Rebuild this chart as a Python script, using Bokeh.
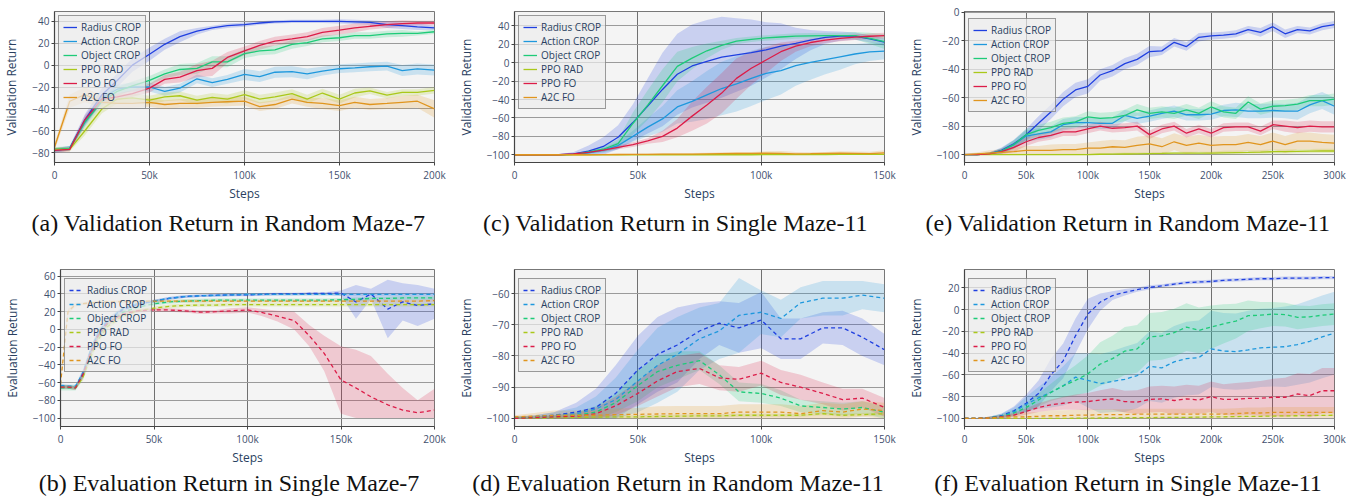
from bokeh.plotting import figure
from bokeh.layouts import column, row
from bokeh.models import FixedTicker, Legend, LegendItem
from bokeh.core.properties import value
from bokeh.embed import file_html
from bokeh.resources import INLINE

SERIES = ["Radius CROP", "Action CROP", "Object CROP", "PPO RAD", "PPO FO", "A2C FO"]
COLORS = ["#1f3fe0", "#1e98dd", "#1ecb78", "#aac81a", "#dc1c48", "#e0951e"]
CAPTIONS = ["(a) Validation Return in Random Maze-7",
            "(c) Validation Return in Single Maze-11",
            "(e) Validation Return in Random Maze-11",
            "(b) Evaluation Return in Single Maze-7",
            "(d) Evaluation Return in Random Maze-11",
            "(f) Evaluation Return in Single Maze-11"]

# ---------------- (a) Validation Return in Random Maze-7 ----------------
X_A = [0, 8, 16, 25, 33, 41, 50, 58, 66, 75, 83, 91, 100, 108, 116, 125, 133, 141, 150, 158, 166, 175, 183, 191, 200]
A_RADIUS = [-78, -76, -50, -27, -14, 0, 10, 19, 26, 31, 34, 36, 37, 38.5, 39.5, 40, 40, 40, 40, 39.5, 39, 37, 36, 35, 34]
A_ACTION = [-78, -76, -52, -30, -22, -20, -20, -24, -21, -12.5, -16, -13, -8.5, -10.5, -6.5, -6, -8, -5.5, -3.3, -2.5, -1.5, -1, -5, -3.5, -4.5]
A_OBJECT = [-77, -76, -52, -33, -24, -19, -14, -8, -4, -3, 3, 3, 10.5, 13, 14, 19, 20.5, 24, 25, 27, 27, 28.5, 29, 29, 30.5]
A_PPORAD = [-77, -77, -60, -40, -31, -30, -32, -29, -28, -32, -29.5, -31, -27, -31, -29, -26, -31, -25.5, -31, -25.5, -23.5, -27.5, -25, -25, -23]
A_PPOFO = [-78, -77, -50, -31, -29, -26, -21, -13, -11, -5, -3, 7, 13, 18, 22, 24, 26, 30, 32, 34, 35.5, 37, 38, 38.5, 38.5]
A_A2C = [-75, -33, -27, -34, -35, -35, -34, -36, -35, -35, -34, -33.5, -33, -38, -36, -31, -34, -35, -37, -34, -36, -35, -34, -33, -40]
A_RADIUS_SD = [2, 2, 5, 6, 6, 6, 6, 5, 5, 3, 2, 2, 2, 1.5, 1.5, 1.5, 1.5, 1.5, 2, 2, 2, 3, 3, 3, 2]
A_ACTION_SD = [2, 2, 4, 4, 4, 4, 4, 4, 4, 4, 4, 4, 5, 5, 5, 5, 5, 4, 4, 4, 4, 4, 5, 5, 5]
A_OBJECT_SD = [2, 2, 4, 4, 4, 4, 4, 4, 5, 5, 5, 5, 4, 4, 4, 4, 3, 3, 3, 3, 3, 3, 3, 2, 2]
A_PPORAD_SD = [2, 2, 4, 4, 4, 4, 4, 4, 4, 4, 4, 4, 4, 4, 4, 4, 4, 4, 4, 4, 3, 3, 3, 3, 3]
A_PPOFO_SD = [2, 2, 4, 4, 3, 3, 4, 4, 5, 6, 7, 5, 4, 4, 4, 4, 4, 4, 4, 4, 3, 3, 3, 2, 2]
A_A2C_SD = [3, 6, 7, 5, 4, 4, 4, 4, 4, 4, 4, 4, 4, 4, 4, 4, 4, 5, 5, 5, 5, 5, 6, 6, 8]

# ---------------- (c) Validation Return in Single Maze-11 ----------------
X_C = [0, 6, 12, 18, 24, 30, 36, 42, 48, 54, 60, 66, 72, 78, 84, 90, 96, 102, 108, 114, 120, 126, 132, 138, 144, 150]
C_RADIUS = [-100, -100, -100, -100, -99, -96, -91, -81, -65, -47, -29, -12.5, -3.5, 1.5, 6, 8.5, 11, 14, 18, 21, 24.5, 27.5, 29, 29, 26, 22.5]
C_ACTION = [-100, -100, -100, -100, -99.5, -98, -95, -90, -80, -70, -61, -48, -42, -35, -28, -23, -17, -11.5, -8.5, -3, 0.5, 3.5, 6.5, 9.5, 11.8, 12.7]
C_OBJECT = [-100, -100, -100, -100, -99.5, -97, -94, -88, -66, -46, -25, -4, 5, 13, 19, 23.5, 25.5, 27, 28, 29, 29.3, 29.5, 29.5, 29.5, 26.5, 23]
C_PPORAD = [-100, -100, -100, -100, -100, -100, -100, -100, -100, -100, -100, -100, -100, -100, -100, -100, -100, -99.8, -99.8, -99.8, -99.7, -99.7, -99.6, -99.6, -99.5, -99.5]
C_PPOFO = [-100, -100, -100, -100, -99, -97.5, -95, -92, -89, -85, -80, -71, -58, -46, -33, -17, -6, 3, 12, 18, 22, 24.5, 26.5, 27.8, 28.8, 29.5]
C_A2C = [-100, -100, -100, -100, -100, -100, -99.8, -99.7, -99.6, -99.5, -99.4, -99.3, -99.2, -99, -98.8, -98.6, -98.5, -98.3, -98.5, -99, -98.8, -98.5, -98.2, -98.5, -98.8, -98]
C_RADIUS_SD = [0, 0, 0, 0.5, 2, 6, 10, 13, 20, 30, 40, 44, 45, 45, 44, 40, 36, 30, 25, 17, 11, 7, 5, 4, 4, 4]
C_ACTION_SD = [0, 0, 0, 0.5, 1, 2, 3, 4, 6, 10, 14, 18, 22, 26, 29, 30, 30, 29, 26, 22, 19, 16, 14, 11, 10, 9]
C_OBJECT_SD = [0, 0, 0, 0.5, 1, 2, 3, 5, 12, 16, 18, 16, 12, 8, 5, 3.5, 3, 3, 3, 3, 3, 3, 3, 4, 6, 8]
C_PPORAD_SD = [0.3, 0.3, 0.3, 0.3, 0.3, 0.3, 0.3, 0.3, 0.3, 0.3, 0.3, 0.3, 0.3, 0.3, 0.3, 0.3, 0.3, 0.3, 0.3, 0.3, 0.3, 0.3, 0.3, 0.3, 0.3, 0.3]
C_PPOFO_SD = [0, 0, 0, 0, 0.5, 1, 1.5, 2, 2.5, 3, 6, 10, 16, 20, 22, 22, 18, 14, 10, 6, 4, 3, 3, 3, 3, 3]
C_A2C_SD = [0.5, 0.5, 0.5, 0.5, 0.5, 0.5, 0.5, 0.7, 0.8, 1, 1, 1, 1, 1.2, 1.5, 1.5, 1.5, 2, 2.5, 2, 1.5, 1.5, 2, 2, 2, 3]

# ---------------- (e) Validation Return in Random Maze-11 ----------------
X_E = [0, 10, 20, 30, 40, 50, 60, 70, 80, 90, 100, 110, 120, 130, 140, 150, 160, 170, 180, 190, 200, 210, 220, 230, 240, 250, 260, 270, 280, 290, 300]
E_RADIUS = [-100, -100, -99.5, -97, -92.5, -86, -78, -70, -61, -54.5, -52, -44, -41, -36, -33, -27.5, -27, -21, -24, -17.5, -16.5, -16, -15, -12, -14, -10, -15, -12, -13, -10, -8.5]
E_ACTION = [-100, -100, -99.5, -97.5, -93, -87, -85.5, -84, -79, -77.5, -77.5, -78, -78, -72.5, -74.5, -73, -71, -69.5, -72, -72, -71.5, -69, -68.5, -69.5, -69.5, -69, -69.5, -69.5, -65, -62, -66]
E_OBJECT = [-100, -100, -99.5, -97.5, -93, -86, -83, -81, -78, -77, -73.5, -74.5, -74, -72.5, -68.5, -71, -70, -71, -68.5, -71, -66.5, -70, -71, -63, -68, -66, -65.5, -64.5, -62, -62, -61]
E_PPORAD = [-100, -100, -100, -100, -100, -100, -100, -100, -100, -100, -100, -99.8, -99.7, -99.6, -99.5, -99.3, -99.2, -99, -99, -99, -99, -98.8, -98.6, -98.5, -98.3, -98, -98, -97.8, -97.6, -97.5, -97.5]
E_PPOFO = [-100, -100, -99.5, -98, -95, -91, -88, -86.5, -84, -84, -82, -80, -81.5, -81, -80, -86, -82, -80, -85, -82, -85, -81, -80.5, -80.5, -83.5, -79, -80, -81, -80, -80.5, -80.5]
E_A2C = [-100, -99.5, -99, -98.5, -98, -97, -97, -97, -96.5, -96.5, -95.5, -95.5, -94.5, -95, -93.5, -92.5, -94.5, -91, -93.5, -92, -93.5, -93, -93, -91.5, -93, -90.5, -93, -90.5, -90.5, -91.5, -92]
E_RADIUS_SD = [0.5, 0.5, 1, 2, 3, 4, 5, 5, 5, 5, 5, 4, 4, 4, 4, 4, 3, 3, 3, 3, 2.5, 2.5, 2.5, 2.5, 3, 3, 3, 2.5, 2.5, 2.5, 2.5]
E_ACTION_SD = [0.5, 0.5, 1, 2, 3, 4, 4, 4, 4, 4, 4, 4, 4, 4, 4, 4, 4, 4, 4, 4, 4, 4, 5, 5, 5, 5, 5, 6, 6, 6, 6]
E_OBJECT_SD = [0.5, 0.5, 1, 2, 3, 4, 4, 4, 4, 4, 4, 4, 4, 4, 4, 4, 4, 4, 4, 4, 4, 4, 4, 4, 4, 4, 4, 4, 4, 4, 4]
E_PPORAD_SD = [0.3, 0.3, 0.3, 0.3, 0.5, 0.5, 0.5, 0.5, 0.5, 0.5, 0.5, 0.8, 0.8, 1, 1, 1, 1, 1, 1, 1, 1, 1.5, 1.5, 1.5, 1.5, 1.5, 1.5, 1.5, 1.5, 1.5, 1.5]
E_PPOFO_SD = [0.5, 0.5, 1, 2, 3, 3, 3, 3, 3, 3, 3, 3, 3, 3, 3, 3, 3, 3, 3, 3, 3, 3, 3, 3, 3, 3, 4, 4, 4, 4, 4]
E_A2C_SD = [0.5, 1, 2, 2, 3, 3, 3, 4, 4, 4, 4, 5, 5, 5, 6, 6, 6, 6, 6, 6, 6, 6, 6, 6, 6, 6, 6, 6, 6, 6, 6]

# ---------------- (b) Evaluation Return in Single Maze-7 ----------------
X_B = [0, 4, 8, 12, 16, 20, 25, 33, 41, 50, 58, 66, 75, 83, 91, 100, 108, 116, 125, 133, 141, 150, 158, 166, 175, 183, 191, 200]
B_RADIUS = [-65, -65, -66, -50, -26, -6, 9, 22, 28, 32, 35, 37, 38, 38.5, 39, 39, 39.5, 40, 40, 40.5, 40.5, 41, 31, 40, 23, 31, 27, 29]
B_ACTION = [-63, -64, -64, -49, -24, -4, 10, 23, 29, 32, 35, 37, 38, 38.5, 39, 39.5, 39.5, 39.5, 39.5, 39.5, 39.5, 39.5, 39.5, 39.5, 39.5, 39.5, 39.5, 39.5]
B_OBJECT = [-66, -66, -66, -52, -28, -8, 6, 19, 25, 29, 31, 32, 32.5, 33, 33, 33, 33, 33, 33, 33, 33, 33.5, 34, 35, 35, 35.5, 35.5, 35.5]
B_PPORAD = [-65, -65, -66, -54, -32, -12, 3, 15, 21, 24, 26, 27, 27.5, 27.5, 28, 28, 28, 28, 28, 28, 28, 28, 28, 28, 28, 28, 28, 28]
B_PPOFO = [-65, -65, -66, -51, -27, -7, 7, 17, 21, 22, 22, 21, 19.5, 20, 21, 22, 19, 15, 10, -7, -27, -57, -66, -76, -85, -91, -94, -91]
B_A2C = [-62, 20, 28, 29, 30, 30.5, 31, 31.5, 31.5, 32, 32, 32, 32, 32, 32, 32, 32, 32, 32, 32, 32, 32, 32, 32, 32, 32, 32, 32.5]
B_RADIUS_SD = [2, 2, 2, 4, 4, 4, 3, 2, 2, 1.5, 1.5, 1.5, 1.5, 1.5, 1.5, 1.5, 1.5, 1.5, 1.5, 1.5, 1.5, 3, 19, 6, 33, 21, 23, 17]
B_ACTION_SD = [2, 2, 2, 4, 4, 4, 3, 2, 1.5, 1.5, 1.5, 1.5, 1.5, 1.5, 1.5, 1.5, 1.5, 1.5, 1.5, 1.5, 1.5, 1.5, 1.5, 1.5, 1.5, 1.5, 1.5, 1.5]
B_OBJECT_SD = [3, 3, 3, 4, 4, 4, 3, 2, 2, 2, 2, 2, 2, 2, 2, 2, 2, 2, 2, 2, 2, 2, 2, 2, 2, 2, 2, 2]
B_PPORAD_SD = [2, 2, 2, 4, 4, 4, 3, 2, 2, 2, 2, 2, 2, 2, 2, 2, 2, 2, 2, 2, 2, 2, 2, 2, 2, 2, 2, 2]
B_PPOFO_SD = [2, 2, 2, 4, 4, 4, 3, 2, 2, 2, 2, 2, 2, 2, 3, 3, 4, 6, 10, 12, 20, 38, 43, 46, 35, 25, 14, 24]
B_A2C_SD = [2, 3, 2, 1.5, 1.5, 1.5, 1.5, 1.5, 1.5, 1.5, 1.5, 1.5, 1.5, 1.5, 1.5, 1.5, 1.5, 1.5, 1.5, 1.5, 1.5, 1.5, 1.5, 1.5, 1.5, 1.5, 1.5, 1.5]

# ---------------- (d) Evaluation Return in Random Maze-11 ----------------
X_D = [0, 8, 16, 25, 33, 41, 50, 58, 66, 75, 83, 91, 100, 108, 116, 125, 133, 141, 150]
D_RADIUS = [-100, -99.5, -99, -98, -96.5, -92, -84.5, -79.5, -76.5, -72, -69.5, -71, -68.5, -74.5, -74.5, -71, -71, -74, -78]
D_ACTION = [-100, -99.5, -99, -98.5, -97, -94, -88, -83, -79.5, -74.5, -72, -67, -66, -68, -63, -61.5, -61.5, -60.5, -61.5]
D_OBJECT = [-100, -99.8, -99.5, -99, -98, -95, -89.5, -85, -83, -81.5, -86, -91.5, -92, -93.5, -96, -96.5, -97, -96.5, -98]
D_PPORAD = [-100, -100, -99.8, -99.7, -99.6, -99.5, -99.5, -99.4, -99.3, -99.2, -99.2, -99, -99, -99, -99, -98.5, -99, -98.8, -98.5]
D_PPOFO = [-100, -99.8, -99.5, -99.3, -98.5, -96, -92, -88, -85, -84, -87, -87.5, -85.5, -88.5, -90, -92, -94, -93.5, -96.5]
D_A2C = [-99.5, -99.3, -99, -99, -99, -98.8, -98.7, -98.6, -98.5, -98.5, -98.5, -98, -98, -98, -98.5, -97.5, -98, -97, -97.5]
D_RADIUS_SD = [0.5, 0.5, 1, 3, 6, 9, 11, 12, 12, 9, 7, 8, 9, 6.5, 6.5, 5, 5.5, 6, 5]
D_ACTION_SD = [0.5, 0.5, 1, 2, 4, 7, 10, 12, 12, 10, 9, 12, 7, 6, 5, 5.5, 5.5, 4.5, 4.5]
D_OBJECT_SD = [0.5, 0.5, 0.5, 1, 2, 3, 5, 5, 4.5, 3, 3, 3, 3, 2.5, 2, 2, 2, 2, 2]
D_PPORAD_SD = [0.5, 0.5, 0.5, 0.5, 0.5, 0.5, 0.5, 0.5, 0.5, 0.5, 0.5, 0.5, 0.5, 0.5, 0.5, 0.5, 0.5, 0.5, 0.5]
D_PPOFO_SD = [0.5, 0.5, 0.5, 1, 2, 3, 4, 5, 5, 5, 4, 4, 4, 4, 4, 3.5, 3.5, 3, 3]
D_A2C_SD = [0.5, 1, 1.5, 1.5, 1.5, 2, 2, 2.5, 2.5, 2.5, 2.5, 2.5, 2.5, 2.5, 2.5, 2.5, 2.5, 2.5, 2.5]

# ---------------- (f) Evaluation Return in Single Maze-11 ----------------
X_F = [0, 10, 20, 30, 40, 50, 60, 70, 80, 90, 100, 110, 120, 130, 140, 150, 160, 170, 180, 190, 200, 210, 220, 230, 240, 250, 260, 270, 280, 290, 300]
F_RADIUS = [-100, -100, -99.5, -97.5, -93, -86, -77, -60, -47, -24, -4, 7, 13, 16, 18.5, 20.5, 22, 23.5, 25, 25.5, 26, 27, 27.5, 28, 28.5, 28.5, 29, 29, 29, 29.5, 29.5]
F_ACTION = [-100, -100, -99.5, -98, -94, -87, -81, -76, -70, -62, -65, -68, -66, -64, -60.5, -52, -53.5, -48, -45, -44, -36, -38, -38.5, -37, -35, -34.5, -34, -32, -29, -25, -21.5]
F_OBJECT = [-100, -100, -99.5, -98, -95, -90, -83, -76, -70, -65, -59, -50, -45, -38, -36, -25, -24, -21, -16, -19, -16, -13, -10.5, -5.5, -5, -4, -4.5, -7, -6.5, -5, -4]
F_PPORAD = [-100, -100, -100, -100, -100, -100, -100, -100, -100, -99.8, -99.7, -99.6, -99.5, -99.4, -99.3, -99.2, -99.1, -99, -99, -98.8, -98.6, -98.5, -98.3, -98, -98, -97.8, -97.6, -97.5, -97.3, -97.2, -97]
F_PPOFO = [-100, -100, -99.5, -98.5, -97, -93.5, -90, -87.5, -86, -85, -84.5, -83, -82, -84.5, -85, -82.5, -82, -83.5, -82, -83, -80, -82.5, -82.5, -81.5, -81.5, -80.5, -80.5, -77.5, -79, -74.5, -74.5]
F_A2C = [-100, -100, -99.5, -99, -98.5, -98.5, -98, -97.5, -97.5, -97, -97, -96.5, -96.5, -96.5, -96, -96, -96, -96, -96, -96, -96, -96, -95.5, -95, -95, -94.5, -94.5, -94.5, -94.5, -94.5, -94.5]
F_RADIUS_SD = [0.5, 0.5, 1, 2, 4, 8, 12, 15, 16, 16, 14, 8, 4, 3, 2, 2, 1.5, 1.5, 1.5, 1.5, 1.5, 1.5, 1.5, 1.5, 1.5, 1.5, 1.5, 1.5, 1.5, 1.5, 1.5]
F_ACTION_SD = [0.5, 0.5, 1, 2, 4, 7, 10, 14, 18, 22, 25, 27, 28, 30, 30, 32, 32, 33, 34, 34, 35, 35, 35, 36, 36, 36, 37, 37, 38, 38, 38]
F_OBJECT_SD = [0.5, 0.5, 1, 2, 3, 4, 6, 8, 11, 14, 17, 20, 21, 22, 22, 22, 22, 22, 22, 21, 20, 18, 16, 14, 12, 11, 11, 11, 10, 10, 10]
F_PPORAD_SD = [0.5, 0.5, 0.5, 0.5, 0.5, 0.5, 0.5, 0.5, 0.5, 0.5, 0.5, 0.5, 0.5, 0.5, 0.5, 0.5, 0.5, 0.5, 0.5, 0.5, 0.5, 0.5, 0.5, 0.5, 0.5, 0.5, 0.5, 0.5, 0.5, 0.5, 0.5]
F_PPOFO_SD = [0.5, 0.5, 1, 1.5, 2, 3, 4, 5, 6, 7, 8, 9, 10, 10, 11, 12, 12, 13, 13, 13, 14, 14, 15, 15, 16, 17, 18, 19, 20, 21, 21]
F_A2C_SD = [0.5, 0.5, 1, 2, 3, 4, 4, 5, 5, 5, 5, 5, 5, 5, 5, 5, 5, 5, 5, 5, 5, 5, 5, 5, 5, 5, 5, 5, 5, 5, 5]

# axis ticks
XT_200 = [0, 50, 100, 150, 200]
XT_150 = [0, 50, 100, 150]
XT_300 = [0, 50, 100, 150, 200, 250, 300]
YT_A = [-80, -60, -40, -20, 0, 20, 40]
YT_C = [-100, -80, -60, -40, -20, 0, 20, 40]
YT_E = [-100, -80, -60, -40, -20, 0]
YT_B = [-100, -80, -60, -40, -20, 0, 20, 40, 60]
YT_D = [-100, -90, -80, -70, -60]
YT_F = [-100, -80, -60, -40, -20, 0, 20]

TICK_COL = "#3f4f6e"
LABEL_COL = "#2a3f5f"
FONT = "Open Sans"


def ylab(v):
    return ("\u2212" + str(abs(v))) if v < 0 else str(v)


def xlab(v):
    return "0" if v == 0 else "%dk" % v


def panel(x, means, sds, yr, yticks, xticks, ylabel, dashed,
          w, h, bl, br, bt, bb, frame_h, leg_top):
    p = figure(width=w, height=h, x_range=(xticks[0], xticks[-1]), y_range=yr,
               output_backend="svg", toolbar_location=None,
               min_border_left=bl, min_border_right=br,
               min_border_top=bt, min_border_bottom=bb)
    p.background_fill_color = "#f4f4f4"
    p.border_fill_color = "white"
    p.outline_line_color = "#777777"
    p.outline_line_width = 1

    for ax, ticks, fmt in ((p.xaxis[0], xticks, xlab), (p.yaxis[0], yticks, ylab)):
        ax.ticker = FixedTicker(ticks=ticks)
        ax.major_label_overrides = {t: fmt(t) for t in ticks}
        ax.major_label_text_font = FONT
        ax.major_label_text_font_size = "10px"
        ax.major_label_text_color = TICK_COL
        ax.axis_label_text_font = FONT
        ax.axis_label_text_font_size = "12px"
        ax.axis_label_text_font_style = "normal"
        ax.axis_label_text_color = LABEL_COL
        ax.axis_line_color = "#444444"
        ax.axis_line_width = 1.2
        ax.major_tick_line_color = "#444444"
        ax.major_tick_in = 0
        ax.major_tick_out = 3
        ax.minor_tick_line_color = None
        ax.major_label_standoff = 2
    p.xaxis.axis_label = "Steps"
    p.xaxis.axis_label_standoff = 0
    p.yaxis.axis_label = ylabel
    p.yaxis.axis_label_standoff = 9

    p.xgrid.grid_line_color = "#707070"
    p.xgrid.grid_line_width = 1
    p.ygrid.grid_line_color = "#9a9a9a"
    p.ygrid.grid_line_width = 1

    for m, s, c in zip(means, sds, COLORS):
        lo = [max(a - b, -100) for a, b in zip(m, s)]
        hi = [a + b for a, b in zip(m, s)]
        p.varea(x=x, y1=lo, y2=hi, fill_color=c, fill_alpha=0.2)

    items = []
    for name, m, c in zip(SERIES, means, COLORS):
        r = p.line(x, m, line_color=c, line_width=1.3,
                   line_dash="4 3" if dashed else "solid")
        items.append(LegendItem(label=name, renderers=[r]))

    leg_h = 92
    leg = Legend(items=items, location=(4, frame_h - leg_top - leg_h), margin=0,
                 padding=4, spacing=0, glyph_height=14, glyph_width=14,
                 label_height=14, label_standoff=4,
                 label_text_font=FONT, label_text_font_size="10px",
                 label_text_color=LABEL_COL,
                 background_fill_color="#ececec", background_fill_alpha=0.7,
                 border_line_color="#444444", border_line_width=1.2)
    p.add_layout(leg)
    return p


def caption(text, w, h, cx, cy_from_top):
    c = figure(width=w, height=h, x_range=(0, w), y_range=(0, h),
               output_backend="svg", toolbar_location=None,
               x_axis_type=None, y_axis_type=None,
               min_border_left=0, min_border_right=0,
               min_border_top=0, min_border_bottom=0)
    c.outline_line_color = None
    c.background_fill_color = "white"
    c.border_fill_color = "white"
    c.grid.visible = False
    c.text(x=[cx], y=[h - cy_from_top], text=[text],
           text_font=value("Liberation Serif"), text_font_size="24px",
           text_align="center", text_baseline="middle", text_color="#111111")
    return c


H1, H2 = 206, 208
HC1, HC2 = 56, 26

pa = panel(X_A, [A_RADIUS, A_ACTION, A_OBJECT, A_PPORAD, A_PPOFO, A_A2C],
           [A_RADIUS_SD, A_ACTION_SD, A_OBJECT_SD, A_PPORAD_SD, A_PPOFO_SD, A_A2C_SD],
           (-89, 49), YT_A, XT_200, "Validation Return", False,
           454, H1, 52, 20, 6, 44, 156, 11)
pc = panel(X_C, [C_RADIUS, C_ACTION, C_OBJECT, C_PPORAD, C_PPOFO, C_A2C],
           [C_RADIUS_SD, C_ACTION_SD, C_OBJECT_SD, C_PPORAD_SD, C_PPOFO_SD, C_A2C_SD],
           (-108.4, 55.7), YT_C, XT_150, "Validation Return", False,
           450, H1, 54, 20, 6, 44, 156, 11)
pe = panel(X_E, [E_RADIUS, E_ACTION, E_OBJECT, E_PPORAD, E_PPOFO, E_A2C],
           [E_RADIUS_SD, E_ACTION_SD, E_OBJECT_SD, E_PPORAD_SD, E_PPOFO_SD, E_A2C_SD],
           (-105.6, 0.7), YT_E, XT_300, "Validation Return", False,
           452, H1, 54, 22, 11, 44, 151, 9)
pb = panel(X_B, [B_RADIUS, B_ACTION, B_OBJECT, B_PPORAD, B_PPOFO, B_A2C],
           [B_RADIUS_SD, B_ACTION_SD, B_OBJECT_SD, B_PPORAD_SD, B_PPOFO_SD, B_A2C_SD],
           (-109.5, 67.6), YT_B, XT_200, "Evaluation Return", True,
           454, H2, 58, 20, 7, 44, 157, 11)
pd_ = panel(X_D, [D_RADIUS, D_ACTION, D_OBJECT, D_PPORAD, D_PPOFO, D_A2C],
            [D_RADIUS_SD, D_ACTION_SD, D_OBJECT_SD, D_PPORAD_SD, D_PPOFO_SD, D_A2C_SD],
            (-102.6, -52.3), YT_D, XT_150, "Evaluation Return", True,
            450, H2, 54, 20, 7, 44, 157, 11)
pf = panel(X_F, [F_RADIUS, F_ACTION, F_OBJECT, F_PPORAD, F_PPOFO, F_A2C],
           [F_RADIUS_SD, F_ACTION_SD, F_OBJECT_SD, F_PPORAD_SD, F_PPOFO_SD, F_A2C_SD],
           (-107.4, 37), YT_F, XT_300, "Evaluation Return", True,
           452, H2, 54, 22, 7, 44, 157, 11)

ca = caption(CAPTIONS[0], 454, HC1, 228, 16)
cc = caption(CAPTIONS[1], 450, HC1, 221, 16)
ce = caption(CAPTIONS[2], 452, HC1, 223.5, 16)
cb = caption(CAPTIONS[3], 454, HC2, 228.5, 12)
cd = caption(CAPTIONS[4], 450, HC2, 223.5, 12)
cf = caption(CAPTIONS[5], 452, HC2, 223.5, 12)

layout = column(row(pa, pc, pe), row(ca, cc, ce), row(pb, pd_, pf), row(cb, cd, cf))
open("out.html", "w").write(file_html(layout, INLINE))
